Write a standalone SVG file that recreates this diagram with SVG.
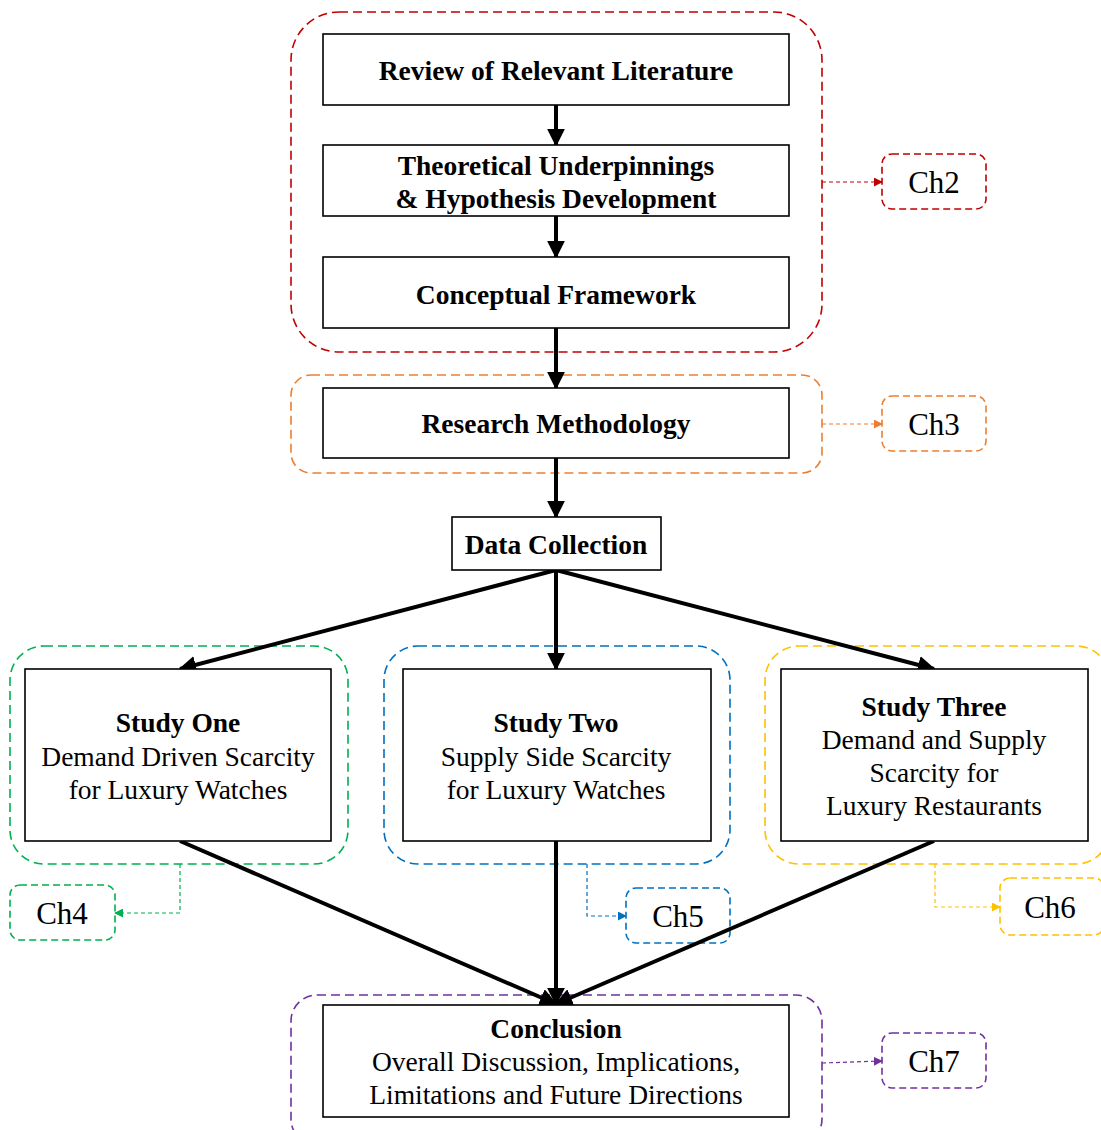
<svg xmlns="http://www.w3.org/2000/svg" width="1101" height="1130" viewBox="0 0 1101 1130">
<style>
  .box { fill: #fff; stroke: #000; stroke-width: 1.6; }
  .grp { fill: none; stroke-width: 1.6; stroke-dasharray: 9 5; }
  .ch { fill: #fff; stroke-width: 1.6; stroke-dasharray: 7 4; }
  .b { font-family: "Liberation Serif", "Times New Roman", serif; font-weight: bold; font-size: 27.5px; text-anchor: middle; fill: #000; }
  .r { font-family: "Liberation Serif", "Times New Roman", serif; font-size: 27.5px; text-anchor: middle; fill: #000; }
  .cht { font-family: "Liberation Serif", "Times New Roman", serif; font-size: 31px; text-anchor: middle; fill: #000; }
  .main { stroke: #000; stroke-width: 4; fill: none; marker-end: url(#ah); }
  .thin { fill: none; stroke-width: 1.2; stroke-dasharray: 4 3; }
</style>
<defs>
  <marker id="ah" viewBox="0 0 10 10" refX="9" refY="5" markerWidth="4.5" markerHeight="4.5" orient="auto" markerUnits="strokeWidth">
    <path d="M0,0 L10,5 L0,10 z" fill="#000"/>
  </marker>
  <marker id="ar" viewBox="0 0 10 10" refX="9" refY="5" markerWidth="9" markerHeight="9" orient="auto" markerUnits="userSpaceOnUse"><path d="M0,0 L10,5 L0,10 z" fill="#C00000"/></marker>
  <marker id="ao" viewBox="0 0 10 10" refX="9" refY="5" markerWidth="9" markerHeight="9" orient="auto" markerUnits="userSpaceOnUse"><path d="M0,0 L10,5 L0,10 z" fill="#ED7D31"/></marker>
  <marker id="ag" viewBox="0 0 10 10" refX="9" refY="5" markerWidth="9" markerHeight="9" orient="auto" markerUnits="userSpaceOnUse"><path d="M0,0 L10,5 L0,10 z" fill="#00B050"/></marker>
  <marker id="ab" viewBox="0 0 10 10" refX="9" refY="5" markerWidth="9" markerHeight="9" orient="auto" markerUnits="userSpaceOnUse"><path d="M0,0 L10,5 L0,10 z" fill="#0070C0"/></marker>
  <marker id="ay" viewBox="0 0 10 10" refX="9" refY="5" markerWidth="9" markerHeight="9" orient="auto" markerUnits="userSpaceOnUse"><path d="M0,0 L10,5 L0,10 z" fill="#FFC000"/></marker>
  <marker id="ap" viewBox="0 0 10 10" refX="9" refY="5" markerWidth="9" markerHeight="9" orient="auto" markerUnits="userSpaceOnUse"><path d="M0,0 L10,5 L0,10 z" fill="#7030A0"/></marker>
</defs>
<rect width="1101" height="1130" fill="#fff"/>

<g id="groups">
  <rect id="grp-ch2" class="grp" x="291" y="12" width="531" height="340" rx="48" stroke="#C00000"/>
  <rect id="grp-ch3" class="grp" x="291" y="375" width="531" height="98" rx="20" stroke="#ED7D31"/>
  <rect id="grp-ch4" class="grp" x="10" y="646" width="338" height="218" rx="34" stroke="#00B050"/>
  <rect id="grp-ch5" class="grp" x="384" y="646" width="346" height="218" rx="34" stroke="#0070C0"/>
  <rect id="grp-ch6" class="grp" x="765" y="646" width="345" height="218" rx="34" stroke="#FFC000"/>
  <rect id="grp-ch7" class="grp" x="291" y="995" width="531" height="150" rx="26" stroke="#7030A0"/>
</g>

<g id="n-ch2"><rect class="ch" x="882" y="154" width="104" height="55" rx="10" stroke="#C00000"/><text class="cht" x="934" y="193">Ch2</text></g>
<g id="n-ch3"><rect class="ch" x="882" y="396" width="104" height="55" rx="10" stroke="#ED7D31"/><text class="cht" x="934" y="435">Ch3</text></g>
<g id="n-ch4"><rect class="ch" x="10" y="885" width="105" height="55" rx="10" stroke="#00B050"/><text class="cht" x="62" y="924">Ch4</text></g>
<g id="n-ch5"><rect class="ch" x="626" y="888" width="104" height="55" rx="10" stroke="#0070C0"/><text class="cht" x="678" y="927">Ch5</text></g>
<g id="n-ch6"><rect class="ch" x="1000" y="878" width="104" height="57" rx="10" stroke="#FFC000"/><text class="cht" x="1050" y="918">Ch6</text></g>
<g id="n-ch7"><rect class="ch" x="882" y="1033" width="104" height="55" rx="10" stroke="#7030A0"/><text class="cht" x="934" y="1072">Ch7</text></g>

<g id="connectors">
  <line class="main" x1="556" y1="105" x2="556" y2="145"/>
  <line class="main" x1="556" y1="216" x2="556" y2="257"/>
  <line class="main" x1="556" y1="328" x2="556" y2="388"/>
  <line class="main" x1="556" y1="458" x2="556" y2="517"/>
  <line class="main" x1="556" y1="570" x2="180" y2="669"/>
  <line class="main" x1="556" y1="570" x2="556" y2="669"/>
  <line class="main" x1="556" y1="570" x2="934" y2="669"/>
  <line class="main" x1="180" y1="841" x2="556" y2="1004"/>
  <line class="main" x1="556" y1="841" x2="556" y2="1004"/>
  <line class="main" x1="934" y1="841" x2="556" y2="1004"/>
  <polyline class="thin" stroke="#C00000" points="822,182 882,182" marker-end="url(#ar)"/>
  <polyline class="thin" stroke="#ED7D31" points="822,424 882,424" marker-end="url(#ao)"/>
  <polyline class="thin" stroke="#00B050" points="180,864 180,913 115,913" marker-end="url(#ag)"/>
  <polyline class="thin" stroke="#0070C0" points="587,864 587,916 626,916" marker-end="url(#ab)"/>
  <polyline class="thin" stroke="#FFC000" points="935,864 935,907 1000,907" marker-end="url(#ay)"/>
  <polyline class="thin" stroke="#7030A0" points="822,1063 882,1061" marker-end="url(#ap)"/>
</g>

<g id="n-review">
  <rect class="box" x="323" y="34" width="466" height="71"/>
  <text class="b" x="556" y="80">Review of Relevant Literature</text>
</g>
<g id="n-theory">
  <rect class="box" x="323" y="145" width="466" height="71"/>
  <text class="b" x="556" y="175">Theoretical Underpinnings</text>
  <text class="b" x="556" y="208">&amp; Hypothesis Development</text>
</g>
<g id="n-framework">
  <rect class="box" x="323" y="257" width="466" height="71"/>
  <text class="b" x="556" y="304">Conceptual Framework</text>
</g>
<g id="n-method">
  <rect class="box" x="323" y="388" width="466" height="70"/>
  <text class="b" x="556" y="433">Research Methodology</text>
</g>
<g id="n-data">
  <rect class="box" x="452" y="517" width="209" height="53"/>
  <text class="b" x="556" y="554">Data Collection</text>
</g>
<g id="n-study1">
  <rect class="box" x="25" y="669" width="306" height="172"/>
  <text class="b" x="178" y="732">Study One</text>
  <text class="r" x="178" y="766">Demand Driven Scarcity</text>
  <text class="r" x="178" y="799">for Luxury Watches</text>
</g>
<g id="n-study2">
  <rect class="box" x="403" y="669" width="308" height="172"/>
  <text class="b" x="556" y="732">Study Two</text>
  <text class="r" x="556" y="766">Supply Side Scarcity</text>
  <text class="r" x="556" y="799">for Luxury Watches</text>
</g>
<g id="n-study3">
  <rect class="box" x="781" y="669" width="307" height="172"/>
  <text class="b" x="934" y="716">Study Three</text>
  <text class="r" x="934" y="749">Demand and Supply</text>
  <text class="r" x="934" y="782">Scarcity for</text>
  <text class="r" x="934" y="815">Luxury Restaurants</text>
</g>
<g id="n-conclusion">
  <rect class="box" x="323" y="1005" width="466" height="112"/>
  <text class="b" x="556" y="1038">Conclusion</text>
  <text class="r" x="556" y="1071">Overall Discussion, Implications,</text>
  <text class="r" x="556" y="1104">Limitations and Future Directions</text>
</g>
</svg>
